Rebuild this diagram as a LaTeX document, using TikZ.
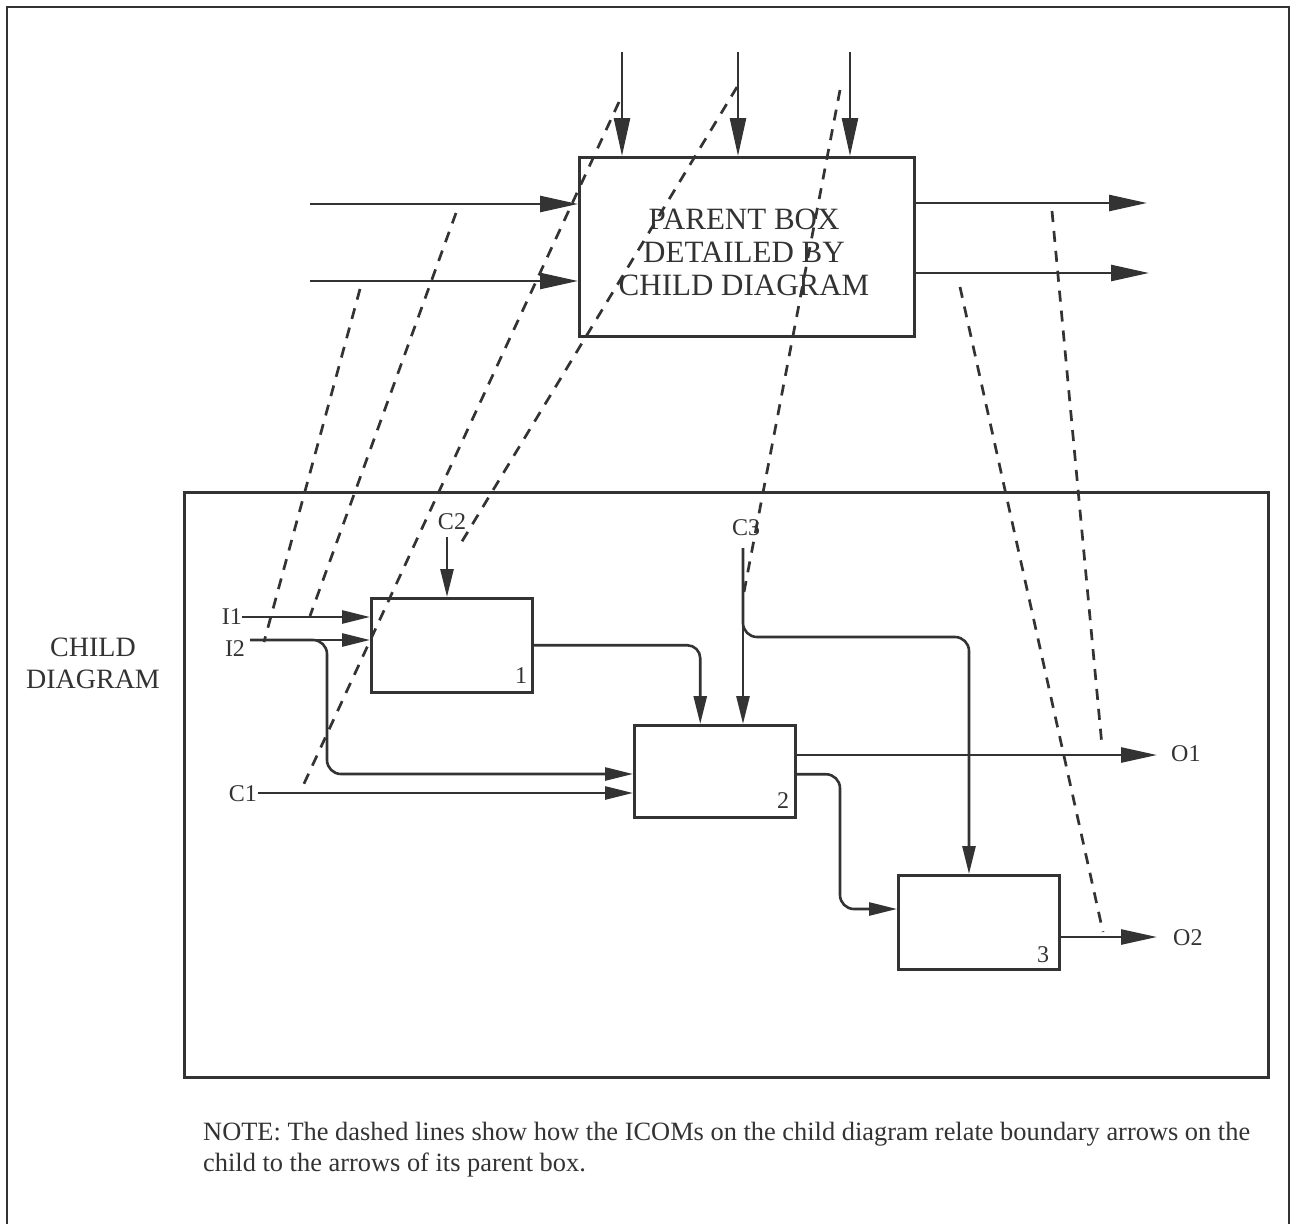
\documentclass[tikz,border=0pt]{standalone}
\usepackage{fontspec}
\setmainfont{Liberation Serif}
\usetikzlibrary{arrows.meta}
\definecolor{ink}{HTML}{333333}
\begin{document}
\begin{tikzpicture}[x=1pt,y=-1pt,
  boxst/.style={draw=ink, line width=2.5pt, minimum width=161pt, minimum height=93pt, inner sep=0pt, anchor=north west},
  parr/.style={draw=ink, line width=2.6pt, -{Triangle[length=38pt,width=16pt]}},
  arr/.style={draw=ink, line width=2.6pt, -{Triangle[length=28pt,width=13pt]}},
  oarr/.style={draw=ink, line width=2.6pt, -{Triangle[length=36pt,width=15pt]}},
  dsh/.style={draw=ink, line width=2.7pt, dash pattern=on 11pt off 9pt},
  lab/.style={text=ink, font=\fontsize{24}{28}\selectfont, inner sep=0pt},
  big/.style={text=ink, font=\fontsize{31}{33}\selectfont, align=center, inner sep=0pt},
  mid/.style={text=ink, font=\fontsize{26.4}{31}\selectfont, inner sep=0pt}
]
\useasboundingbox (0,0) rectangle (1294,1224);
\fill[white] (0,0) rectangle (1294,1224);
% outer frame
\draw[ink, line width=2.5pt] (7,1226) -- (7,7) -- (1289,7) -- (1289,1226);
% parent box
\node[draw=ink, line width=2.5pt, minimum width=335pt, minimum height=179pt, inner sep=0pt, anchor=north west] (pb) at (578,156) {};
\node[big] (ptxt) at (744,252) {PARENT BOX\\DETAILED BY\\CHILD DIAGRAM};
\coordinate (pt1) at (622,52);
\coordinate (pt2) at (738,52);
\coordinate (pt3) at (850,52);
\draw[parr] (pt1) -- (pt1 |- pb.north);
\draw[parr] (pt2) -- (pt2 |- pb.north);
\draw[parr] (pt3) -- (pt3 |- pb.north);
\coordinate (pi1) at (310,204);
\coordinate (pi2) at (310,281);
\draw[parr] (pi1) -- (pi1 -| pb.west);
\draw[parr] (pi2) -- (pi2 -| pb.west);
\coordinate (po1) at (1147,203);
\coordinate (po2) at (1149,273);
\draw[parr] (po1 -| pb.east) -- (po1);
\draw[parr] (po2 -| pb.east) -- (po2);
% child frame
\node[draw=ink, line width=2.5pt, minimum width=1084pt, minimum height=585pt, inner sep=0pt, anchor=north west] (cf) at (183,491) {};
\node[mid, align=center, font=\fontsize{28}{32}\selectfont] (cdl) at (93,663) {CHILD\\DIAGRAM};
% child boxes
\node[boxst, minimum height=94pt] (b1) at (370,597) {};
\node[boxst, minimum height=92pt] (b2) at (633,724) {};
\node[boxst, minimum height=94pt] (b3) at (897,874) {};
\node[lab] (n1) at (521,676) {1};
\node[lab] (n2) at (783,801) {2};
\node[lab] (n3) at (1043,955) {3};
% labels
\node[lab, anchor=east] (I1) at (242,617) {I1};
\node[lab] (I2) at (235,649) {I2};
\node[lab, anchor=east] (C1) at (257,794) {C1};
\node[lab] (C2) at (452,522) {C2};
\node[lab] (C3) at (746,528) {C3};
\node[lab, anchor=west] (O1) at (1171,754) {O1};
\node[lab, anchor=west] (O2) at (1173,938) {O2};
% child connectors
\coordinate (i2s) at (250,640);
\coordinate (c1s) at (258,793);
\coordinate (c2s) at (447,537);
\coordinate (c3s) at (743,548);
\coordinate (c3j) at (969,637);
\coordinate (k1) at (327,774);
\coordinate (j2) at (840,909);
\coordinate (o1e) at (1157,755);
\coordinate (o2e) at (1157,937);
\draw[arr] (I1.east) -- (I1.east -| b1.west);
\draw[arr] (i2s) -- (i2s -| b1.west);
\draw[arr, rounded corners=14pt] (i2s) -- (327,640) -- (k1) -- (k1 -| b2.west);
\draw[arr] (c1s) -- (c1s -| b2.west);
\draw[arr] (c2s) -- (c2s |- b1.north);
\draw[arr, rounded corners=13pt] (b1.east) -| ([xshift=-14.5pt]b2.north);
\draw[arr] (c3s) -- (c3s |- b2.north);
\draw[arr, rounded corners=14pt] (c3s) |- (c3j) -- (c3j |- b3.north);
\draw[oarr] (o1e -| b2.east) -- (o1e);
\draw[arr, rounded corners=14pt] ([yshift=-3pt]b2.east) -| (j2) -- (j2 -| b3.west);
\draw[oarr] (o2e -| b3.east) -- (o2e);
% dashed correspondence lines
\coordinate (dI1a) at (456,213);  \coordinate (dI1b) at (310,616);
\coordinate (dI2a) at (360,289);  \coordinate (dI2b) at (264,642);
\coordinate (dC1a) at (619,102);  \coordinate (dC1b) at (302,788);
\coordinate (dC2a) at (737,87);   \coordinate (dC2b) at (458,548);
\coordinate (dC3a) at (840,90);   \coordinate (dC3b) at (744,592);
\coordinate (dO1a) at (1052,211); \coordinate (dO1b) at (1102,746);
\coordinate (dO2a) at (960,287);  \coordinate (dO2b) at (1103,932);
\draw[dsh] (dI1a) -- (dI1b);
\draw[dsh] (dI2a) -- (dI2b);
\draw[dsh] (dC1a) -- (dC1b);
\draw[dsh] (dC2a) -- (dC2b);
\draw[dsh] (dC3a) -- (dC3b);
\draw[dsh] (dO1a) -- (dO1b);
\draw[dsh] (dO2a) -- (dO2b);
% note
\node[mid, anchor=base west] (note1) at (203,1140) {NOTE: The dashed lines show how the ICOMs on the child diagram relate boundary arrows on the};
\node[mid, anchor=base west] (note2) at (203,1171) {child to the arrows of its parent box.};
\end{tikzpicture}
\end{document}
